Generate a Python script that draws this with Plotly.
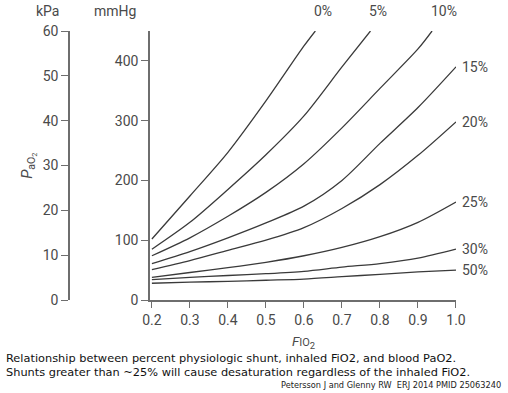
import plotly.graph_objects as go

# ---- data ----
fio2 = [0.2, 0.3, 0.4, 0.5, 0.6, 0.7, 0.8, 0.9, 1.0]
shunt_labels = ["0%", "5%", "10%", "15%", "20%", "25%", "30%", "50%"]

# curves that leave the top of the chart end where they reach 450 mmHg
fio2_s0 = [0.2, 0.3, 0.4, 0.5, 0.6, 0.63]
pao2_s0 = [102, 174, 247, 333, 425, 450]
fio2_s5 = [0.2, 0.3, 0.4, 0.5, 0.6, 0.7, 0.775]
pao2_s5 = [85, 130, 185, 243, 308, 390, 450]
fio2_s10 = [0.2, 0.3, 0.4, 0.5, 0.6, 0.7, 0.8, 0.9, 0.937]
pao2_s10 = [74, 104, 140, 180, 228, 288, 354, 420, 450]
pao2_s15 = [61, 81, 104, 129, 157, 200, 262, 322, 390]
pao2_s20 = [51, 66, 83, 100, 121, 153, 193, 242, 298]
pao2_s25 = [38, 46, 54, 63, 74, 88, 106, 130, 164]
pao2_s30 = [34, 38, 41, 44, 48, 55, 61, 70, 85]
pao2_s50 = [28, 30, 31, 33, 35, 39, 43, 47, 50]

x_ticks = [0.2, 0.3, 0.4, 0.5, 0.6, 0.7, 0.8, 0.9, 1.0]
mmhg_ticks = [0, 100, 200, 300, 400]
kpa_ticks = [0, 10, 20, 30, 40, 50, 60]

caption1 = "Relationship between percent physiologic shunt, inhaled FiO2, and blood PaO2."
caption2 = "Shunts greater than ~25% will cause desaturation regardless of the inhaled FiO2."
source = "Petersson J and Glenny RW  ERJ 2014 PMID 25063240"

series = [
    (fio2_s0, pao2_s0), (fio2_s5, pao2_s5), (fio2_s10, pao2_s10),
    (fio2, pao2_s15), (fio2, pao2_s20), (fio2, pao2_s25),
    (fio2, pao2_s30), (fio2, pao2_s50),
]

LINE = "#3a3a3a"
AXIS = "#6e6e6e"
TXT = "#4a4a4a"
TFONT = "Roboto"

fig = go.Figure()
for (xs, ys), name in zip(series, shunt_labels):
    fig.add_trace(go.Scatter(
        x=xs, y=ys, mode="lines", name=name,
        line=dict(color=LINE, width=1.3, shape="spline", smoothing=0.8),
        showlegend=False, hoverinfo="skip",
    ))

# invisible trace to activate the kPa axis
fig.add_trace(go.Scatter(x=[None], y=[None], yaxis="y2", showlegend=False, hoverinfo="skip"))

annos = []
# labels at the top for curves that exit the chart
for xs, name in [(fio2_s0, "0%"), (fio2_s5, "5%"), (fio2_s10, "10%")]:
    annos.append(dict(x=xs[-1], y=1, xref="x", yref="paper", text=name, showarrow=False,
                      xanchor="left", yanchor="bottom", yshift=10, xshift=-3,
                      font=dict(family=TFONT, size=14, color=TXT)))
# labels at the right end
for ys, name in [(pao2_s15, "15%"), (pao2_s20, "20%"), (pao2_s25, "25%"),
                 (pao2_s30, "30%"), (pao2_s50, "50%")]:
    annos.append(dict(x=fio2[-1], y=ys[-1], xref="x", yref="y", text=name, showarrow=False,
                      xanchor="left", yanchor="middle", xshift=4,
                      font=dict(family=TFONT, size=14, color=TXT)))

annos += [
    dict(x=0.02273, y=1, xref="paper", yref="paper", text="kPa", showarrow=False,
         xanchor="right", yanchor="bottom", yshift=10, xshift=-8,
         font=dict(family=TFONT, size=14, color=TXT)),
    dict(x=0.22727, y=1, xref="paper", yref="paper", text="mmHg", showarrow=False,
         xanchor="right", yanchor="bottom", yshift=10, xshift=-12,
         font=dict(family=TFONT, size=14, color=TXT)),
    dict(x=-0.08, y=0.5, xref="paper", yref="paper",
         text="<i>P</i><sub>aO<sub>2</sub></sub>", textangle=-90, showarrow=False,
         xanchor="center", yanchor="middle",
         font=dict(family=TFONT, size=15, color=TXT)),
    dict(x=0.6, y=0, xref="x", yref="paper",
         text="<i>F</i><span style='font-size:11px'>IO</span><sub>2</sub>",
         showarrow=False, xanchor="center", yanchor="top", yshift=-31,
         font=dict(family=TFONT, size=13.5, color=TXT)),
    # captions placed relative to the plot bottom
    dict(x=-0.1414, y=0, xref="paper", yref="paper", text=caption1, showarrow=False,
         xanchor="left", yanchor="middle", yshift=-58,
         font=dict(family="DejaVu Sans", size=11.35, color="#111")),
    dict(x=-0.1414, y=0, xref="paper", yref="paper", text=caption2, showarrow=False,
         xanchor="left", yanchor="middle", yshift=-72,
         font=dict(family="DejaVu Sans", size=11.35, color="#111")),
    dict(x=1.119, y=0, xref="paper", yref="paper", text=source, showarrow=False,
         xanchor="right", yanchor="middle", yshift=-85,
         font=dict(family="DejaVu Sans", size=8.2, color="#222")),
]

fig.update_layout(
    width=508, height=393,
    margin=dict(l=60, r=52, t=31, b=93),
    paper_bgcolor="white", plot_bgcolor="white",
    xaxis=dict(domain=[0.22727, 1], range=[0.195, 1.0], tickvals=x_ticks, tickformat=".1f",
               showgrid=False, zeroline=False, showline=True, linecolor=AXIS, linewidth=1.5,
               ticks="outside", ticklen=6, tickwidth=1.3, tickcolor=AXIS,
               tickfont=dict(family=TFONT, size=14, color=TXT)),
    yaxis=dict(range=[0, 450], tickvals=mmhg_ticks, showgrid=False, zeroline=False,
               showline=True, linecolor=AXIS, linewidth=1.5,
               ticks="outside", ticklen=7, tickwidth=1.3, tickcolor=AXIS,
               tickfont=dict(family=TFONT, size=14, color=TXT)),
    yaxis2=dict(range=[0, 60], tickvals=kpa_ticks, overlaying="y", anchor="free",
                position=0.02273, side="left", showgrid=False, zeroline=False,
                showline=True, linecolor=AXIS, linewidth=1.5,
                ticks="outside", ticklen=7, tickwidth=1.3, tickcolor=AXIS,
                tickfont=dict(family=TFONT, size=14, color=TXT)),
    annotations=annos,
)

fig.write_html("out.html", config={"displayModeBar": False},
               post_script="document.body.style.margin='0px';")
